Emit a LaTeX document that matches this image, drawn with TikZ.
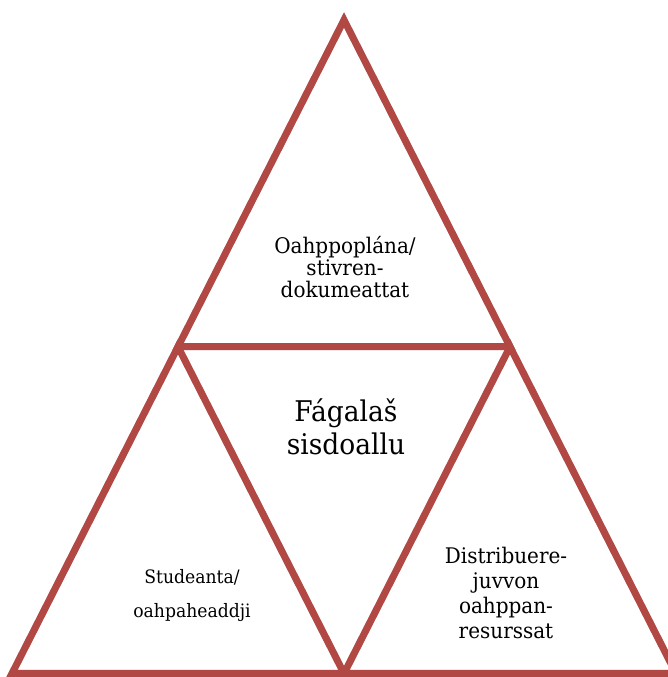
\documentclass[tikz,border=0pt]{standalone}
\usepackage{fontspec}
\setmainfont[FakeStretch=0.93]{DejaVu Serif}
\begin{document}
\begin{tikzpicture}[x=1pt,y=1pt,
  tri/.style={draw=trired,line width=7pt,line join=miter},
  shade/.style={draw=black,opacity=0.12,line width=7pt,line join=miter},
  lbl/.style={align=center,inner sep=0pt,text=black}]
\definecolor{trired}{RGB}{178,72,68}
\useasboundingbox (0,0) rectangle (668,677);
\clip (0,0) rectangle (668,677);
\coordinate (A) at (344,657);
\coordinate (L) at (12,3.5);
\coordinate (R) at (676,3.5);
\coordinate (ML) at (178,330.25);
\coordinate (MR) at (510,330.25);
\coordinate (MB) at (344,3.5);
\begin{scope}[shift={(2,-2)}]
\draw[shade] (A) -- (ML) -- (MR) -- cycle;
\draw[shade] (ML) -- (L) -- (MB) -- cycle;
\draw[shade] (MR) -- (MB) -- (R) -- cycle;
\end{scope}
\draw[tri] (A) -- (ML) -- (MR) -- cycle;
\draw[tri] (ML) -- (L) -- (MB) -- cycle;
\draw[tri] (MR) -- (MB) -- (R) -- cycle;
\node[lbl,font=\fontsize{21.5}{22}\selectfont] (top) at (345,410) {Oahppoplána/\\stivren-\\dokumeattat};
\node[lbl,font=\fontsize{28.5}{33}\selectfont] (mid) at (346,250) {Fágalaš\\sisdoallu};
\node[lbl,font=\fontsize{18.5}{34}\selectfont] (left) at (192,81) {Studeanta/\\oahpaheaddji};
\node[lbl,font=\fontsize{21.5}{25.3}\selectfont] (right) at (506,84) {Distribuere-\\juvvon\\oahppan-\\resurssat};
\end{tikzpicture}
\end{document}
